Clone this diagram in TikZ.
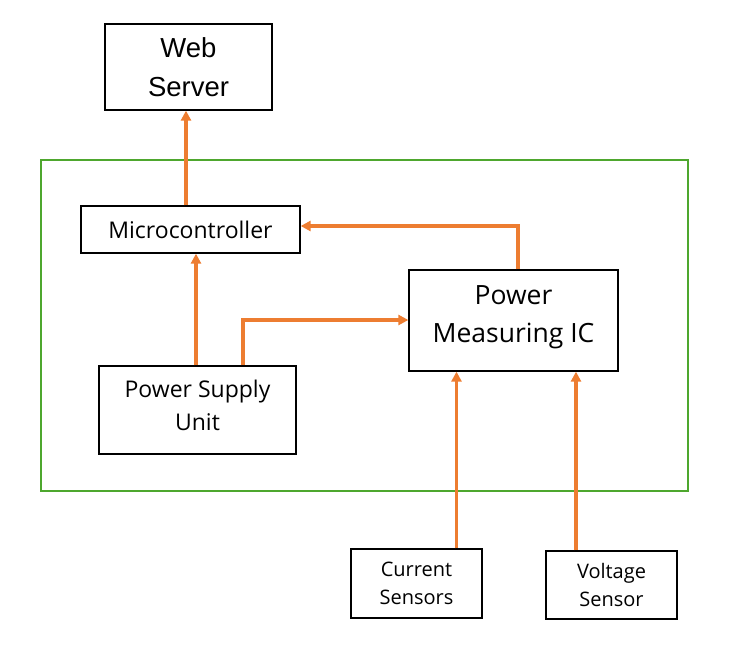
\documentclass[tikz,border=0pt]{standalone}
\usepackage{fontspec}
\setmainfont{Open Sans}
\newfontfamily\arialfont{Liberation Sans}
\usetikzlibrary{arrows.meta}
\definecolor{arrorange}{HTML}{ED7D31}
\definecolor{boxgreen}{HTML}{4EA72E}
\begin{document}
\begin{tikzpicture}[x=1pt,y=-1pt,
  blk/.style={draw=black,line width=1.3pt,fill=white,align=center,inner sep=0pt},
  arr/.style={draw=arrorange,line width=3.2pt,-{Triangle[length=10pt,width=10pt]}}]
\useasboundingbox (0,0) rectangle (750,654);
\draw[boxgreen,line width=2.2pt] (41,160) rectangle (688,491);
\node[blk,minimum width=167pt,minimum height=86pt,font=\arialfont\fontsize{27.5}{39}\selectfont] (web) at (188.5,67) {Web\\Server};
\node[blk,minimum width=219pt,minimum height=47pt,font=\fontsize{23}{24}\selectfont] (mcu) at (190.5,229.5) {Microcontroller};
\node[blk,minimum width=209pt,minimum height=101pt,text depth=12.6pt,font=\fontsize{26.5}{38}\selectfont] (pmic) at (513.5,320.5) {Power\\Measuring IC};
\node[blk,minimum width=197pt,minimum height=88pt,text depth=10pt,font=\fontsize{23}{33}\selectfont] (psu) at (197.5,410) {Power Supply\\Unit};
\node[blk,minimum width=131pt,minimum height=69pt,font=\fontsize{20}{28}\selectfont] (cur) at (416.5,583.5) {Current\\Sensors};
\node[blk,minimum width=131pt,minimum height=68pt,font=\fontsize{20}{28}\selectfont] (volt) at (611.5,585) {Voltage\\Sensor};
\draw[arr] ([xshift=-4.5pt]mcu.north) -- ([xshift=-4.5pt]mcu.north |- web.south);
\draw[arr] ([xshift=-1.5pt]psu.north) -- ([xshift=-1.5pt]psu.north |- mcu.south);
\coordinate (pc) at ([xshift=45.5pt]psu.north);
\draw[arr] (pc) |- (pmic.west |- 0,320);
\coordinate (mc) at ([xshift=4.5pt]pmic.north);
\draw[arr] (mc) |- (mcu.east |- 0,226);
\draw[arr] ([xshift=40pt]cur.north) -- ([xshift=40pt]cur.north |- pmic.south);
\draw[arr] ([xshift=-35.5pt]volt.north) -- ([xshift=-35.5pt]volt.north |- pmic.south);
\end{tikzpicture}
\end{document}
